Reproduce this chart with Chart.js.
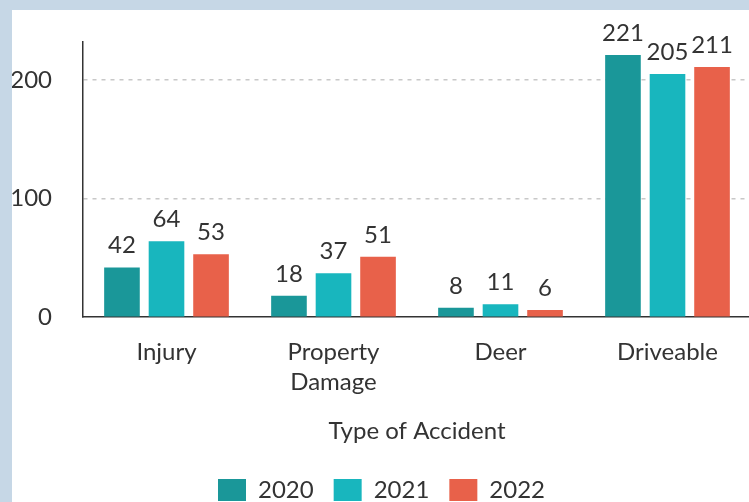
<!DOCTYPE html>
<html>
<head>
<meta charset="utf-8">
<script src="https://cdn.jsdelivr.net/npm/chart.js@4/dist/chart.umd.min.js"></script>
<style>
  html, body { margin: 0; padding: 0; }
  body { width: 749px; height: 502px; background: #c6d7e6; position: relative; overflow: hidden; }
  #panel { position: absolute; left: 12px; top: 10px; width: 737px; height: 492px; background: #ffffff; overflow: hidden; }
  #wrap { position: absolute; left: 0; top: 0; width: 739px; height: 502px; }
</style>
</head>
<body>
<div id="panel"><div id="wrap"><canvas id="c"></canvas></div></div>
<script>
const categories = ["Injury", ["Property", "Damage"], "Deer", "Driveable"];
const years = ["2020", "2021", "2022"];
const values2020 = [42, 18, 8, 221];
const values2021 = [64, 37, 11, 205];
const values2022 = [53, 51, 6, 211];
const yTicks = [0, 100, 200];
const colors = ["#1a9799", "#18b6be", "#e8614a"];

const FONT = "Lato, 'Noto Sans', sans-serif";

const valueLabels = {
  id: 'valueLabels',
  afterDatasetsDraw(chart) {
    const ctx = chart.ctx;
    ctx.save();
    ctx.font = "24px " + FONT;
    ctx.fillStyle = "#333333";
    ctx.textAlign = "center";
    ctx.textBaseline = "alphabetic";
    chart.data.datasets.forEach((ds, i) => {
      const meta = chart.getDatasetMeta(i);
      meta.data.forEach((el, j) => {
        ctx.fillText(String(ds.data[j]), el.x, el.y - 14);
      });
    });
    ctx.restore();
  }
};

new Chart(document.getElementById('c'), {
  type: 'bar',
  data: {
    labels: categories,
    datasets: [
      { label: years[0], data: values2020, backgroundColor: colors[0] },
      { label: years[1], data: values2021, backgroundColor: colors[1] },
      { label: years[2], data: values2022, backgroundColor: colors[2] }
    ]
  },
  options: {
    responsive: true,
    maintainAspectRatio: false,
    animation: false,
    layout: { padding: { top: 32, left: 0, right: 0, bottom: 0 } },
    datasets: { bar: { categoryPercentage: 0.8, barPercentage: 0.8 } },
    scales: {
      x: {
        grid: { display: false, drawTicks: false },
        border: { display: true, color: "#333333", width: 1.5 },
        ticks: { color: "#333333", font: { family: FONT, size: 24, lineHeight: 1.25 }, padding: 20, maxRotation: 0, autoSkip: false },
        title: { display: true, text: "Type of Accident", color: "#333333", font: { family: FONT, size: 24 }, padding: { top: 0, bottom: 12 } }
      },
      y: {
        min: 0,
        max: 232,
        afterBuildTicks(scale) { scale.ticks = yTicks.map(v => ({ value: v })); },
        afterFit(scale) { scale.width = 71; },
        grid: {
          color: (c) => (c.tick && c.tick.value === 0) ? "rgba(0,0,0,0)" : "#c8c8c8",
          lineWidth: 1.5, drawTicks: true, tickLength: 31, tickColor: "rgba(0,0,0,0)"
        },
        border: { display: true, color: "#333333", width: 1.5, dash: [4, 5] },
        ticks: { color: "#333333", font: { family: FONT, size: 24 }, padding: 0 }
      }
    },
    plugins: {
      legend: {
        position: 'bottom',
        labels: { boxWidth: 28, boxHeight: 22, padding: 20, color: "#333333", font: { family: FONT, size: 24 } }
      },
      tooltip: { enabled: false }
    }
  },
  plugins: [valueLabels]
});
</script>
</body>
</html>
